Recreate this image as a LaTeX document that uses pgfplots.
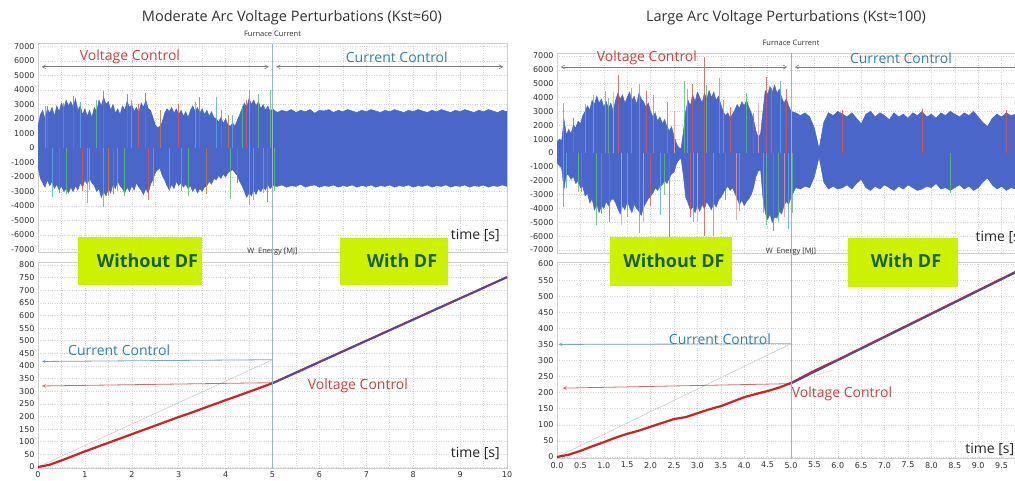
\documentclass[border=0pt]{standalone}
\usepackage{pgfplots}
\pgfplotsset{compat=1.18}
\usepackage{pgfplotstable}
\usepgfplotslibrary{fillbetween}
\usetikzlibrary{arrows.meta}
\usepackage{fontspec}
\setmainfont{Open Sans}
\newfontfamily\tickfont{DejaVu Sans}

\definecolor{wave}{HTML}{4A66C8}
\definecolor{wred}{HTML}{D9534F}
\definecolor{wgreen}{HTML}{5CBF6B}
\definecolor{wcyan}{HTML}{5AA7E0}
\definecolor{wpink}{HTML}{F19A9A}
\definecolor{worange}{HTML}{C9782A}
\definecolor{vctext}{HTML}{D23F3A}
\definecolor{cctext}{HTML}{2F80B8}
\definecolor{lime}{HTML}{CCF200}
\definecolor{dfgreen}{HTML}{1B5E3B}
\definecolor{framec}{HTML}{CFCFCF}
\definecolor{gridc}{HTML}{D4D4D4}
\definecolor{divider}{HTML}{9DB2D2}
\definecolor{ered}{HTML}{D42020}
\definecolor{eblue}{HTML}{3E4FA8}
\definecolor{arrred}{HTML}{E06666}
\definecolor{arrblue}{HTML}{7FA3CF}

% furnace current envelopes: time, upper, lower  (moderate perturbations)
\pgfplotstableread{
t hi lo
0.00 1500 -1300
0.05 2300 -2100
0.10 2600 -2400
0.15 2000 -2700
0.20 2700 -2200
0.25 2400 -2600
0.30 2800 -2300
0.35 2200 -2800
0.40 2900 -2500
0.45 2500 -2900
0.50 3100 -2600
0.55 2700 -3000
0.60 3300 -2800
0.65 2900 -3100
0.70 3200 -2700
0.75 2800 -3000
0.80 3400 -2600
0.85 2600 -2900
0.90 2900 -2400
0.95 2300 -2700
1.00 2700 -2200
1.05 2200 -2500
1.10 2600 -2100
1.15 2100 -2400
1.20 2800 -2600
1.25 2500 -3000
1.30 3300 -2800
1.35 2900 -3400
1.40 3500 -3000
1.45 3000 -3300
1.50 3200 -2800
1.55 2600 -3100
1.60 3000 -2500
1.65 2400 -2800
1.70 2700 -2300
1.75 2300 -2600
1.80 2900 -2800
1.85 2600 -3100
1.90 3200 -2700
1.95 2800 -3000
2.00 3000 -2600
2.05 2500 -2900
2.10 2800 -2400
2.15 2400 -2700
2.20 3100 -2900
2.25 2800 -3200
2.30 3300 -2800
2.35 2700 -3100
2.40 2600 -2500
2.45 2100 -2200
2.50 1600 -1700
2.55 1400 -1500
2.60 1500 -1400
2.65 1800 -1900
2.70 2400 -2200
2.75 2700 -2600
2.80 2500 -2900
2.85 2800 -2500
2.90 2400 -2800
2.95 2700 -2300
3.00 2300 -2600
3.05 2600 -2400
3.10 2200 -2700
3.15 2500 -2500
3.20 2100 -2800
3.25 2600 -2600
3.30 2900 -3000
3.35 2500 -2700
3.40 2800 -3100
3.45 2400 -2800
3.50 2700 -3000
3.55 2300 -2700
3.60 2600 -2600
3.65 2200 -2300
3.70 2500 -2500
3.75 2100 -2100
3.80 2000 -2200
3.85 1800 -1900
3.90 2100 -2100
3.95 1700 -1800
4.00 2000 -2000
4.05 1600 -1700
4.10 1500 -1600
4.15 1700 -1500
4.20 1500 -1700
4.25 1900 -1900
4.30 2300 -2300
4.35 2700 -2600
4.40 3100 -3000
4.45 2800 -3400
4.50 3400 -3100
4.55 3000 -3300
4.60 3300 -2900
4.65 2900 -3200
4.70 3200 -2800
4.75 2700 -3000
4.80 3000 -2700
4.85 2600 -2900
4.90 2900 -2500
4.95 2500 -2800
5.00 2700 -2600
5.10 2450 -2650
5.20 2600 -2550
5.30 2500 -2700
5.40 2650 -2600
5.50 2450 -2650
5.60 2600 -2500
5.70 2500 -2700
5.80 2650 -2600
5.90 2400 -2550
6.00 2600 -2700
6.10 2550 -2600
6.20 2650 -2650
6.30 2450 -2550
6.40 2600 -2700
6.50 2500 -2600
6.60 2650 -2650
6.70 2550 -2550
6.80 2450 -2700
6.90 2600 -2600
7.00 2500 -2650
7.10 2650 -2550
7.20 2550 -2700
7.30 2450 -2600
7.40 2600 -2650
7.50 2500 -2550
7.60 2650 -2700
7.70 2550 -2600
7.80 2450 -2650
7.90 2600 -2550
8.00 2500 -2700
8.10 2650 -2600
8.20 2550 -2650
8.30 2450 -2550
8.40 2600 -2700
8.50 2500 -2600
8.60 2650 -2650
8.70 2550 -2550
8.80 2450 -2700
8.90 2600 -2600
9.00 2500 -2650
9.10 2650 -2550
9.20 2550 -2700
9.30 2450 -2600
9.40 2600 -2650
9.50 2500 -2550
9.60 2650 -2700
9.70 2550 -2600
9.80 2450 -2650
9.90 2600 -2550
10.00 2500 -2650
}\curmod

% furnace current envelopes: time, upper, lower  (large perturbations)
\pgfplotstableread{
t hi lo
0.00 800 -700
0.05 1000 -900
0.10 900 -1100
0.15 2400 -2600
0.20 1300 -1500
0.25 1700 -1600
0.30 1400 -1900
0.35 2000 -1700
0.40 1800 -2200
0.45 2300 -2000
0.50 2100 -2500
0.55 2700 -2400
0.60 3000 -3100
0.65 3400 -2900
0.70 3100 -3600
0.75 3800 -3300
0.80 3500 -4100
0.85 4100 -3700
0.90 3600 -4300
0.95 3900 -3800
1.00 3300 -4000
1.05 3700 -3500
1.10 3200 -3800
1.15 3600 -3400
1.20 3000 -3300
1.25 3800 -3600
1.30 4300 -4000
1.35 3900 -4400
1.40 4200 -3800
1.45 3600 -4100
1.50 4000 -3500
1.55 4400 -3900
1.60 3800 -4300
1.65 4100 -3700
1.70 3500 -4000
1.75 4300 -4200
1.80 3900 -4500
1.85 3700 -3900
1.90 3300 -3600
1.95 3600 -3300
2.00 3000 -3100
2.05 2600 -2900
2.10 2900 -2500
2.15 2300 -2700
2.20 2600 -2400
2.25 2100 -2300
2.30 2400 -2000
2.35 1900 -2200
2.40 1600 -1800
2.45 1900 -1500
2.50 1200 -1400
2.55 700 -800
2.60 400 -500
2.65 300 -400
2.70 1500 -1600
2.75 3000 -3200
2.80 3800 -3600
2.85 3400 -4100
2.90 4200 -3900
2.95 3700 -4300
3.00 4400 -3800
3.05 4000 -4200
3.10 3600 -3700
3.15 4300 -4000
3.20 3900 -3500
3.25 4500 -3800
3.30 4000 -4100
3.35 4400 -3600
3.40 3800 -3900
3.45 4100 -3400
3.50 3500 -3200
3.55 3000 -2900
3.60 2700 -2600
3.65 2900 -2400
3.70 2500 -2700
3.75 2800 -2500
3.80 3100 -2900
3.85 3500 -3300
3.90 3200 -3700
3.95 3700 -3400
4.00 3400 -3800
4.05 3800 -3500
4.10 3300 -3300
4.15 2900 -3000
4.20 2400 -2500
4.25 1600 -1700
4.30 1100 -1300
4.35 1400 -1200
4.40 3000 -3200
4.45 4500 -4300
4.50 4200 -4800
4.55 4800 -4400
4.60 4400 -5000
4.65 4900 -4600
4.70 4300 -4700
4.75 4600 -4200
4.80 4000 -4400
4.85 3600 -3800
4.90 3900 -3500
4.95 3400 -3700
5.00 3000 -3200
5.10 2900 -2500
5.20 2700 -2600
5.30 2900 -2400
5.40 2600 -2500
5.50 1800 -1700
5.60 300 -300
5.70 2200 -2100
5.80 2900 -2600
5.90 2700 -2400
6.00 3000 -2600
6.10 2800 -2500
6.20 2600 -2300
6.30 2900 -2600
6.40 2500 -2200
6.50 2100 -1900
6.60 2800 -2500
6.70 3000 -2700
6.80 2600 -2400
6.90 2900 -2600
7.00 2700 -2300
7.10 2400 -2500
7.20 2900 -2700
7.30 2600 -2400
7.40 2800 -2600
7.50 2500 -2300
7.60 2900 -2500
7.70 2700 -2700
7.80 3000 -2600
7.90 2600 -2400
8.00 2800 -2500
8.10 2500 -2200
8.20 2900 -2600
8.30 2700 -2500
8.40 3000 -2700
8.50 2800 -2500
8.60 2600 -2300
8.70 2900 -2600
8.80 2700 -2400
8.90 3000 -2700
9.00 2600 -2500
9.10 2200 -2100
9.20 1900 -1800
9.30 2500 -2300
9.40 2800 -2600
9.50 2600 -2400
9.60 2900 -2700
9.70 2700 -2500
9.80 2800 -2600
9.90 2600 -2400
10.00 2700 -2500
}\curlarge

\pgfplotsset{
  panel/.style={
    scale only axis, clip=false,
    axis line style={draw=framec},
    major tick length=0pt, minor tick length=0pt,
    xmajorgrids, ymajorgrids,
    major grid style={draw=gridc, dotted, line width=0.6pt},
    minor grid style={draw=gridc, dotted, line width=0.6pt},
    tick label style={font=\tickfont\fontsize{8}{9}\selectfont, text=black!80},
    /pgf/number format/assume math mode=true,
    /pgf/number format/1000 sep={},
    title style={font=\fontsize{7.5}{8}\selectfont, text=black!80,
      at={(0.5,1)}, anchor=south, inner sep=1.2pt},
    xmin=0, xmax=10,
  },
  wavepanel/.style={panel, ymin=-7200, ymax=7200,
    ytick={-7000,-6000,...,7000}, xticklabels={}, title={Furnace Current}},
  band/.style={fill=wave, draw=none},
  env/.style={draw=wave, line width=0.5pt},
  spike/.style={ycomb, line width=0.8pt, opacity=0.8},
  leftarrow/.style={line width=0.8pt, -{Stealth[length=4pt,width=3.5pt]}},
}
\tikzset{
  ctrl/.style={font=\fontsize{14}{16}\selectfont},
  span/.style={draw=black!50, line width=0.6pt,
    {Straight Barb[length=3.5pt,width=4pt]}-{Straight Barb[length=3.5pt,width=4pt]}},
  timelbl/.style={font=\fontsize{14}{16}\selectfont, text=black!85},
  badge/.style={font=\bfseries\fontsize{18}{20}\selectfont, text=dfgreen},
}

\begin{document}
\begin{tikzpicture}[x=1pt,y=1pt]

% ---------------- moderate perturbations: furnace current ----------------
\begin{axis}[wavepanel, at={(38pt,228.6pt)}, width=469pt, height=208.8pt,
    xtick={0,...,10}, minor x tick num=1, xminorgrids]
  \addplot[env, name path=hiA] table[x=t,y=hi]{\curmod};
  \addplot[env, name path=loA] table[x=t,y=lo]{\curmod};
  \addplot[band] fill between[of=hiA and loA];
  \addplot[spike, wred] coordinates {(0.75,3600) (1.40,3900) (1.90,3700) (2.30,3800) (2.35,-3600) (3.45,3500) (4.90,-3700) (0.95,-3000) (3.00,3000) (4.45,3300)
    (0.20,2900) (1.60,-3200) (2.15,3000) (3.90,2600) (4.25,-2400) (0.45,-3100)};
  \addplot[spike, wgreen] coordinates {(3.20,-3300) (4.10,-3500) (4.50,-3900) (4.70,3700) (5.00,3600) (1.10,-2900) (2.80,-3000) (4.95,4000) (5.05,-3000)
    (0.60,-3200) (1.25,3300) (1.85,-3300) (3.35,3200) (4.35,2900) (4.80,-3100)};
  \addplot[spike, wcyan] coordinates {(0.30,-3400) (1.40,-4100) (1.05,-3800) (2.00,3300) (3.80,3500) (4.50,4000) (0.15,2900)
    (0.90,3200) (1.70,-3000) (2.45,-2600) (3.05,-3000) (4.60,-3600) (4.15,2300)};
  \addplot[spike, worange] coordinates {(0.55,3100) (2.60,2600) (3.60,-3200) (1.50,-3300) (4.05,2300)};
  \draw[span] (axis cs:0.08,5600) -- (axis cs:4.92,5600);
  \draw[span] (axis cs:5.08,5600) -- (axis cs:9.92,5600);
  \node[ctrl, text=vctext] at (axis cs:1.96,6280) {Voltage Control};
  \node[ctrl, text=cctext] at (axis cs:7.65,6280) {Current Control};
  \node[timelbl, anchor=east] at (axis cs:9.92,-6000) {time [s]};
  \coordinate (divA) at (axis cs:5,7200);
\end{axis}

% ---------------- moderate perturbations: energy ----------------
\begin{axis}[panel, at={(38pt,12.7pt)}, width=469pt, height=205.8pt,
    ymin=-5, ymax=810, ytick={0,50,...,800},
    xtick={0,...,10}, minor x tick num=1, xminorgrids,
    title={W\enspace Energy [MJ]}]
  \addplot[gray!45, line width=0.5pt] coordinates {(0,0) (5,425)};
  \addplot[leftarrow, arrblue] coordinates {(5,425) (0.08,418)};
  \addplot[leftarrow, arrred] coordinates {(5,334) (0.08,321)};
  \addplot[wred!60, densely dotted, line width=0.6pt] coordinates {(5,332) (6.0,405)};
  \addplot[ered, line width=2.2pt] coordinates {
    (0,0) (0.25,9) (0.5,26) (0.75,44) (1,62) (1.25,79) (1.5,96) (1.75,113)
    (2,130) (2.25,147) (2.5,164) (2.75,181) (3,198) (3.25,214) (3.5,231)
    (3.75,248) (4,265) (4.25,281) (4.5,298) (4.75,315) (5,332) (10,752)};
  \addplot[eblue, line width=1.5pt] coordinates {(5,332) (10,752)};
  \node[ctrl, text=cctext] at (axis cs:1.73,461) {Current Control};
  \node[ctrl, text=vctext] at (axis cs:6.82,323) {Voltage Control};
  \node[timelbl, anchor=east] at (axis cs:9.92,55) {time [s]};
  \coordinate (divB) at (axis cs:5,-5);
\end{axis}

% ---------------- large perturbations: furnace current ----------------
\begin{axis}[wavepanel, at={(557pt,228.2pt)}, width=468pt, height=199.6pt,
    xtick={0,0.5,...,10}]
  \addplot[env, name path=hiB] table[x=t,y=hi]{\curlarge};
  \addplot[env, name path=loB] table[x=t,y=lo]{\curlarge};
  \addplot[band] fill between[of=hiB and loB];
  \addplot[spike, wred] coordinates {(1.31,5600) (1.13,-5000) (1.92,4500) (2.41,-6400) (3.14,6900) (3.14,-6000) (4.48,5500) (4.63,-5600) (5.00,4300) (0.53,-2800) (3.70,3300) (2.90,5000) (6.10,3100) (7.80,3150) (9.60,3100)
    (0.35,2500) (2.00,-3800) (2.85,-4600) (3.60,-3400) (4.20,2900) (4.90,4600)};
  \addplot[spike, wgreen] coordinates {(0.78,4200) (0.85,-5200) (1.77,5000) (2.06,4200) (2.73,5200) (3.48,5400) (4.05,4300) (4.48,-5200) (5.02,-4300) (1.50,-4600) (3.90,-4200) (8.40,-2900)
    (0.45,-2800) (1.10,4000) (2.30,-3000) (3.20,4900) (4.72,-5000)};
  \addplot[spike, wcyan] coordinates {(0.14,3600) (0.14,-3900) (1.03,4500) (1.77,-5800) (2.20,-4500) (2.91,-5000) (3.34,-6000) (4.77,5200) (4.95,-5500)
    (0.60,3500) (1.60,4700) (2.78,4600) (3.55,3800) (4.40,-4300) (0.20,-2500)};
  \addplot[spike, wpink] coordinates {(1.38,-5200) (3.84,-4800) (1.20,4400) (2.50,3000) (4.30,3600) (1.85,-5000) (3.00,-5000) (4.85,-4600)};
  \addplot[spike, worange] coordinates {(0.95,-4400) (2.35,3700) (4.58,4700)};
  \draw[span] (axis cs:0.08,6200) -- (axis cs:4.92,6200);
  \draw[span] (axis cs:5.08,6200) -- (axis cs:9.92,6200);
  \node[ctrl, text=vctext] at (axis cs:1.92,6850) {Voltage Control};
  \node[ctrl, text=cctext] at (axis cs:7.35,6850) {Current Control};
  \node[timelbl, anchor=west] at (axis cs:8.87,-6130) {time [s]};
  \coordinate (divC) at (axis cs:5,7200);
\end{axis}

% ---------------- large perturbations: energy ----------------
\begin{axis}[panel, at={(557pt,22.4pt)}, width=468pt, height=196.2pt,
    ymin=-5, ymax=605, ytick={0,50,...,600},
    xtick={0,0.5,...,9.5}, extra x ticks={10}, extra x tick labels={},
    xticklabel style={/pgf/number format/.cd, fixed, fixed zerofill, precision=1},
    title={W\enspace Energy [MJ]}]
  \addplot[gray!45, line width=0.5pt] coordinates {(0,0) (5,352)};
  \addplot[leftarrow, arrblue] coordinates {(5,352) (0.03,350)};
  \addplot[leftarrow, arrred] coordinates {(5,228) (0.12,214)};
  \addplot[wred!60, densely dotted, line width=0.6pt] coordinates {(5,232) (5.9,270)};
  \addplot[ered, line width=2.2pt] coordinates {
    (0,0) (0.25,7) (0.5,19) (0.75,33) (1,46) (1.25,60) (1.5,72) (1.75,82)
    (2,94) (2.25,106) (2.5,118) (2.75,124) (3,136) (3.25,148) (3.5,158)
    (3.75,172) (4,186) (4.25,196) (4.5,205) (4.75,216) (5,230)
    (5.5,268) (6,302) (10,590)};
  \addplot[eblue, line width=1.5pt] coordinates {(5,228) (10,588)};
  \node[ctrl, text=cctext] at (axis cs:3.48,367) {Current Control};
  \node[ctrl, text=vctext] at (axis cs:6.09,196) {Voltage Control};
  \node[timelbl, anchor=west] at (axis cs:8.65,22) {time [s]};
  \coordinate (divD) at (axis cs:5,-5);
\end{axis}

% switch-over instant at t = 5 s
\draw[divider, line width=0.8pt] (divA) -- (divB);
\draw[divider, line width=0.8pt] (divC) -- (divD);

% panel titles
\node[font=\fontsize{14.5}{16}\selectfont, text=black!80] at (292,463)
  {Moderate Arc Voltage Perturbations (Kst≈60)};
\node[font=\fontsize{14.5}{16}\selectfont, text=black!80] at (786,463)
  {Large Arc Voltage Perturbations (Kst≈100)};

% DF badges
\fill[lime] (78,196) rectangle (202,244);
\node[badge] at (147.5,220) {Without DF};
\fill[lime] (340,196) rectangle (448,243);
\node[badge] at (402,220) {With DF};
\fill[lime] (610,195) rectangle (732,244);
\node[badge] at (674,220) {Without DF};
\fill[lime] (848,194) rectangle (958,243);
\node[badge] at (906,220) {With DF};

\pgfresetboundingbox
\path[use as bounding box] (0,0) rectangle (1015,481);
\end{tikzpicture}
\end{document}
